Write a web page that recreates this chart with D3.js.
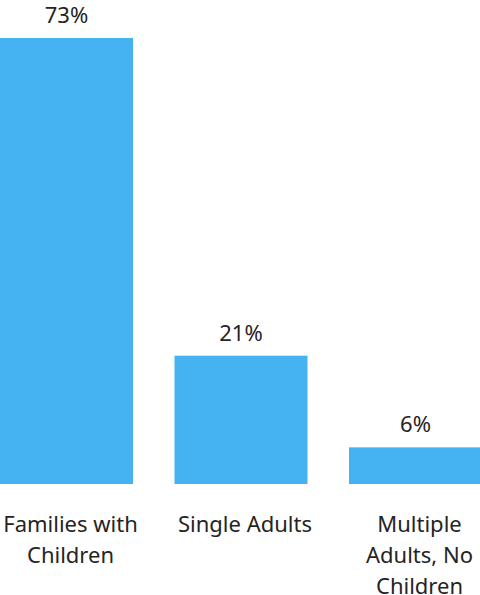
<!DOCTYPE html>
<html>
<head>
<meta charset="utf-8">
<script src="https://cdn.jsdelivr.net/npm/d3@7"></script>
<style>
  html, body { margin: 0; padding: 0; background: #ffffff; overflow: hidden; }
  svg { display: block; }
  text { font-family: "Noto Sans", "Open Sans", sans-serif; fill: #252423; }
</style>
</head>
<body>
<svg id="chart" width="480" height="595"></svg>
<script>
// Household composition shares
const categories = ["Families with Children", "Single Adults", "Multiple Adults, No Children"];
const categoryLines = [["Families with", "Children"], ["Single Adults"], ["Multiple", "Adults, No", "Children"]];
const shares = [73, 21, 6];

const baseY = 484, topY = 38;
const svg = d3.select("#chart");

const x = d3.scaleBand()
  .domain(categories)
  .range([0, 482])
  .paddingInner(0.2378)
  .paddingOuter(0);

const y = d3.scaleLinear()
  .domain([0, 73])
  .range([baseY, topY]);

// bars
svg.append("g").selectAll("rect")
  .data(categories)
  .join("rect")
  .attr("x", d => x(d))
  .attr("y", (d, i) => y(shares[i]))
  .attr("width", x.bandwidth())
  .attr("height", (d, i) => baseY - y(shares[i]))
  .attr("fill", "#45b3f1");

// value labels
svg.append("g").selectAll("text")
  .data(categories)
  .join("text")
  .attr("x", d => x(d) + x.bandwidth() / 2)
  .attr("y", (d, i) => y(shares[i]) - 15)
  .attr("text-anchor", "middle")
  .attr("font-size", 22)
  .text((d, i) => shares[i] + "%");

// category axis (wrapped labels)
const xAxis = d3.axisBottom(x).tickSize(0).tickFormat("");
const axisG = svg.append("g")
  .attr("transform", `translate(0,${baseY})`)
  .call(xAxis);
axisG.select(".domain").remove();

axisG.selectAll(".tick").each(function(d, i) {
  const t = d3.select(this).append("text")
    .attr("text-anchor", "middle")
    .attr("font-size", 22)
    .style("fill", "#252423");
  categoryLines[i].forEach((line, j) => {
    t.append("tspan")
      .attr("x", 4)
      .attr("y", 47.5 + j * 31.3)
      .text(line);
  });
});
</script>
</body>
</html>
